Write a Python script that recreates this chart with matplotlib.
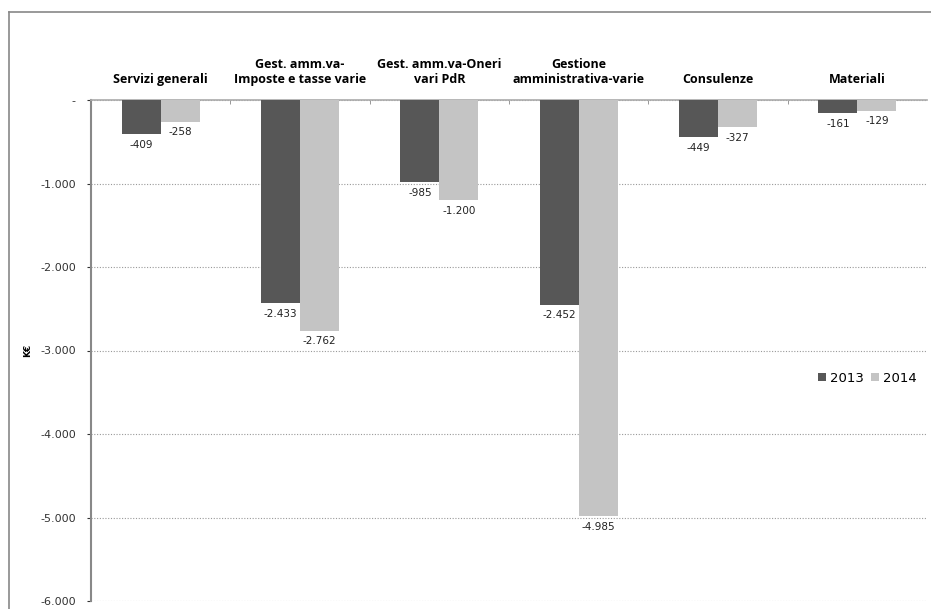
import numpy as np
import matplotlib.pyplot as plt
from matplotlib.lines import Line2D
from matplotlib.ticker import FuncFormatter

# data (K€)
categories = ['Servizi generali', 'Gest. amm.va-\nImposte e tasse varie',
              'Gest. amm.va-Oneri\nvari PdR', 'Gestione\namministrativa-varie',
              'Consulenze', 'Materiali']
vals_2013 = [-409, -2433, -985, -2452, -449, -161]
vals_2014 = [-258, -2762, -1200, -4985, -327, -129]
series_names = ['2013', '2014']

c13 = '#575757'
c14 = '#c4c4c4'

fig = plt.figure(figsize=(9.31, 6.09), dpi=100)
ax = fig.add_axes([91/931, 1-601/609, (927-91)/931, (601-100)/609])

x = np.arange(len(categories))
w = 0.28
b1 = ax.bar(x - w/2, vals_2013, w, color=c13, label=series_names[0], zorder=3)
b2 = ax.bar(x + w/2, vals_2014, w, color=c14, label=series_names[1], zorder=3)

def fmt_it(v):
    s = '{:,.0f}'.format(abs(v)).replace(',', '.')
    return '-' + s

for bars, vals in [(b1, vals_2013), (b2, vals_2014)]:
    for rect, v in zip(bars, vals):
        ax.annotate(fmt_it(v), (rect.get_x() + rect.get_width()/2, v),
                    xytext=(0, -4), textcoords='offset points',
                    ha='center', va='top', fontsize=7.5, color='#222222')

ax.set_xlim(-0.5, len(categories) - 0.5)
ax.set_ylim(-6000, 0)
ax.set_yticks(np.arange(-6000, 1, 1000))
ax.yaxis.set_major_formatter(FuncFormatter(lambda v, p: '-' if v == 0 else fmt_it(v)))
ax.tick_params(axis='y', labelsize=8, colors='#333333', length=3, pad=8)
ax.grid(axis='y', linestyle=(0, (1, 1.5)), color='#999999', linewidth=0.8, zorder=0)

# category labels on top of the plot
ax.xaxis.tick_top()
ax.set_xticks(x)
ax.set_xticklabels(categories, fontsize=9, fontweight='bold', family='Open Sans',
                   linespacing=1.25)
ax.tick_params(axis='x', length=0, pad=10)
ax.set_xticks(np.arange(0.5, len(categories) - 0.5, 1), minor=True)
ax.tick_params(axis='x', which='minor', length=3, direction='in', color='#888888')

for s in ['right', 'bottom']:
    ax.spines[s].set_visible(False)
ax.spines['left'].set_color('#888888')
ax.spines['left'].set_linewidth(1.5)
ax.spines['top'].set_color('#aaaaaa')
ax.spines['top'].set_linewidth(1.2)

ax.set_ylabel('K€', fontsize=6.5, fontweight='bold')
ax.yaxis.set_label_coords(-0.07, 0.5)

ax.legend(loc='center left', bbox_to_anchor=(0.87, 0.445), ncol=2, frameon=False,
          fontsize=9.5, handlelength=0.6, handleheight=0.6, columnspacing=0.6,
          handletextpad=0.25, borderpad=0, borderaxespad=0)

# outer chart border
fig.add_artist(Line2D([9/931, 9/931], [0, 1-12/609], color='#888888', lw=1.2))
fig.add_artist(Line2D([9/931, 1], [1-12/609, 1-12/609], color='#888888', lw=1.2))

fig.savefig('out.png', dpi=100)
